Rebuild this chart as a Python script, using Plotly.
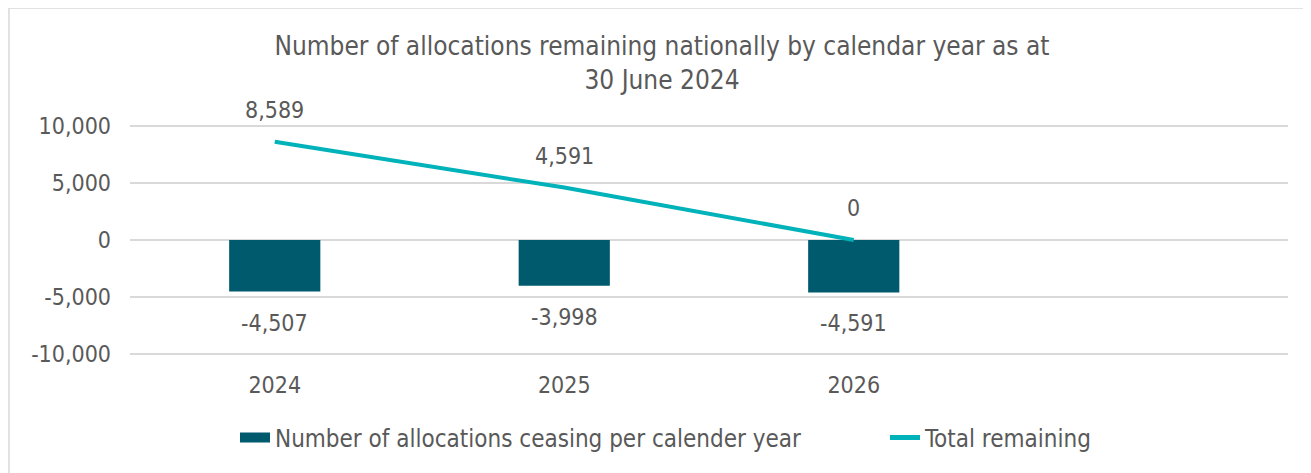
import plotly.graph_objects as go

years = ["2024", "2025", "2026"]
ceasing = [-4507, -3998, -4591]
remaining = [8589, 4591, 0]
y_ticks = [-10000, -5000, 0, 5000, 10000]
y_tick_text = [f"{v:,}" for v in y_ticks]

FONT = "DejaVu Sans Condensed, DejaVu Sans, sans-serif"
GREY = "#595959"
BAR_C = "#005A6E"
LINE_C = "#00B2B9"
BAR_NAME = "Number of allocations ceasing per calender year"
LINE_NAME = "Total remaining"

W, H = 1303, 465
L, R = 122, 23
T, B = 112.3, 113.3
PW, PH = W - L - R, H - T - B

xs = list(range(len(years)))

fig = go.Figure()
fig.add_trace(go.Bar(
    x=xs, y=ceasing, name=BAR_NAME, showlegend=False,
    marker=dict(color=BAR_C, line=dict(width=0)), width=0.315,
))
fig.add_trace(go.Scatter(
    x=xs, y=remaining, name=LINE_NAME, mode="lines", showlegend=False,
    line=dict(color=LINE_C, width=4),
))
# legend entries (rectangle-like symbol for bars)
fig.add_trace(go.Scatter(x=[None], y=[None], name=BAR_NAME, mode="lines",
                         line=dict(color=BAR_C, width=13), legend="legend"))
fig.add_trace(go.Scatter(x=[None], y=[None], name=LINE_NAME, mode="lines",
                         line=dict(color=LINE_C, width=5), legend="legend2"))

LBL = dict(family=FONT, size=23, color=GREY)
anns = []
for i, v in enumerate(ceasing):
    anns.append(dict(x=i, y=v, text=f"{v:,}", showarrow=False,
                     yshift=-31, font=LBL))
for i, v in enumerate(remaining):
    anns.append(dict(x=i, y=v, text=f"{v:,}", showarrow=False,
                     yshift=32, font=LBL))

LEG = dict(orientation="h", xanchor="left", xref="container",
           y=1 - 430/H, yanchor="middle", yref="container",
           font=dict(family=FONT, size=24, color=GREY), itemwidth=30,
           bgcolor="rgba(0,0,0,0)")

fig.update_layout(
    width=W, height=H,
    margin=dict(l=L, r=R, t=T, b=B, autoexpand=False),
    paper_bgcolor="white", plot_bgcolor="white",
    font=dict(family=FONT, size=23, color=GREY),
    title=dict(text="Number of allocations remaining nationally by calendar year as at<br>30 June 2024",
               x=654/W, xanchor="center", xref="container",
               y=1 - 47/H, yanchor="middle", yref="container",
               font=dict(family=FONT, size=26, color=GREY)),
    xaxis=dict(range=[-0.5, 3.5], tickvals=xs, ticktext=years, showgrid=False,
               zeroline=False, showline=False, ticks="", tickfont=dict(size=23),
               ticklabelstandoff=9),
    yaxis=dict(range=[-10500, 10500], tickvals=y_ticks, ticktext=y_tick_text,
               showgrid=True, gridcolor="#D9D9D9", gridwidth=1.5, zeroline=False,
               ticks="", tickfont=dict(size=23), ticklabelstandoff=18),
    legend=dict(x=227/W, **LEG),
    legend2=dict(x=877/W, **LEG),
    showlegend=True,
    annotations=anns,
    shapes=[dict(type="rect", xref="paper", yref="paper",
                 x0=(1 - L)/PW, x1=(W + 30 - L)/PW,
                 y0=(H - B - (H + 30))/PH, y1=(H - B - 0.5)/PH,
                 line=dict(color="#D9D9D9", width=1.5), fillcolor="rgba(0,0,0,0)")],
)

fig.write_html("out.html")
